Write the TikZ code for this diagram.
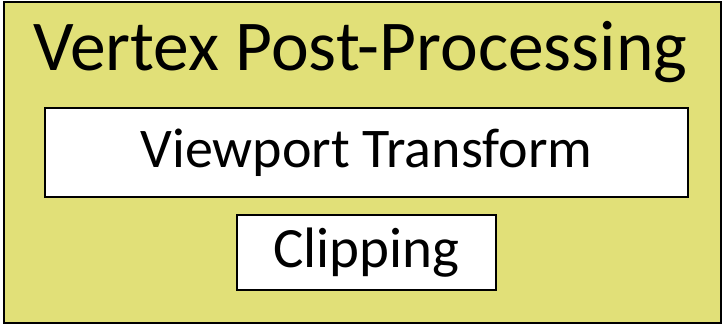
\documentclass[tikz,border=0pt]{standalone}
\usepackage{fontspec}
\setmainfont{Carlito}
\definecolor{stageyellow}{HTML}{E1E078}
\tikzstyle{stage} = [draw,line width=1.5pt,fill=white,inner sep=0pt]
\tikzstyle{title} = [anchor=base west,inner sep=0pt]

\begin{document}
\begin{tikzpicture}[x=1pt,y=-1pt]

\useasboundingbox (0,0) rectangle (723,325);
\draw[line width=2pt,fill=stageyellow] (4,1.5) rectangle (721,323);

\node[title,font=\fontsize{71.5}{71.5}\selectfont] (post) at (33,70) {Vertex Post-Processing};
\node[stage,minimum width=643pt,minimum height=89pt,font=\fontsize{56}{56}\selectfont] (view) at (366.5,152.5) {Viewport Transform};
\node[stage,minimum width=259pt,minimum height=75pt,font=\fontsize{57}{57}\selectfont] (clip) at (366.5,252.5) {Clipping};

\end{tikzpicture}
\end{document}
